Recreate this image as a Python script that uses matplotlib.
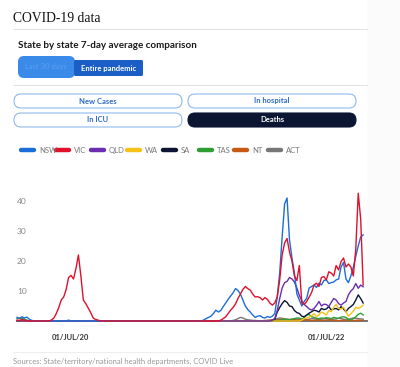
import matplotlib.pyplot as plt
from matplotlib.patches import FancyBboxPatch, Rectangle
import pandas as pd

# weekly 7-day average deaths
dates = pd.date_range('2020-02-01', periods=142, freq='7D')

nsw_early = [1.2, 0.8, 1.4, 1.0, 1.3, 0.6, 0.2, 0, 0, 0, 0, 0, 0, 0,
             0, 0, 0, 0, 0, 0, 0, 0.3]
nsw_late = [0.3, 0.8, 1.2, 1.6, 2.5, 3.6, 3.0, 3.5, 4.8, 6.0, 7.2, 8.3, 9.4, 10.8,
            10.2, 9.0, 7.0, 5.0, 3.8, 3.0, 2.0, 1.2, 1.6, 1.8, 1.2, 1.0, 1.5, 1.2,
            1.6, 2.5, 8.0, 16, 28, 39, 41, 27, 21, 16, 9, 7, 5, 6.5, 7.6, 11, 11.5,
            12, 11.2, 12.6, 12, 13.5, 13.7, 12.5, 12.8, 13, 13.7, 14, 18, 19.5, 14,
            12.8, 15, 18, 21.5, 25, 28, 28.7]

vic_early = [0.3, 0.2, 0.5, 0.3, 0.1, 0, 0, 0, 0, 0, 0, 0, 0, 0, 0.3, 1.0, 2.5,
             4.5, 7.0, 8.0, 10.5, 14.5, 15.2, 14.0, 17.5, 22, 15, 7, 5.8, 4.3,
             2.8, 1.0, 0.5, 0.3]
vic_late = [0.3, 0.8, 1.4, 2.5, 3.6, 4.5, 5.7, 7.5, 9.0, 10.5, 11.5, 10.8, 10.3,
            9.0, 8.0, 8.1, 7.8, 7.0, 7.8, 7.2, 6.0, 5.3, 6.0, 8.0, 13.7, 22, 26,
            27.5, 23, 20, 15, 13.5, 18.5, 6, 5.5, 6.5, 8, 9.5, 12, 12.6, 11.5,
            14.5, 14.8, 13.7, 16.4, 16, 15, 18.5, 17, 19.8, 21, 18, 19, 18, 15,
            24, 42.6, 34, 12]

qld_late = [0.3, 0.8, 3.5, 7.5, 11, 12.8, 13.2, 14.5, 14.0, 13, 11, 8.5, 6.8,
            5.5, 4.8, 4.0, 3.7, 4.2, 5.2, 6.5, 5.0, 5.6, 5.5, 4.8, 6.2, 7.5, 7.0,
            5.8, 5.3, 6.0, 6.5, 8.7, 10, 10.8, 12.5, 10.9, 12, 11.4]

wa_late = [0.3, 0.8, 1.0, 1.3, 1.8, 2.4, 1.5, 2.0, 3.0, 2.6, 2.0, 3.5, 3.1, 4.5,
           5.6, 4.2, 4.0, 4.6, 3.2, 1.6, 2.4, 3.3, 4.6, 4.2, 4.6, 5.3]

sa_late = [0.5, 3.0, 4.5, 5.8, 6.8, 6.2, 5.0, 4.8, 3.5, 2.8, 2.5, 1.6, 1.4, 2.0,
           2.6, 3.1, 3.6, 3.4, 3.0, 4.2, 3.8, 4.0, 4.8, 3.7, 4.0, 4.2, 3.7, 4.8,
           4.0, 3.1, 4.2, 4.8, 5.5, 7.0, 8.7, 7.5, 6.0]

tas_early = [0.8, 1.0, 0.9, 0.6, 0.3]
tas_late = [0.2, 0.3, 0.4, 0.5, 0.6, 0.4, 0.6, 0.8, 1.0, 1.0, 0.6, 1.2, 2.0, 2.2,
            1.4, 1.2, 0.9, 0.8, 1.0, 0.9, 1.1, 1.0, 0.8, 1.2, 1.0, 0.9, 1.3, 1.4,
            1.2, 0.6, 0.3, 0.8, 1.4, 2.2, 2.6, 2.0]

nt_late = [0.1, 0.1, 0.2, 0.2, 0.3, 0.3, 0.4, 0.5, 0.6, 0.5, 0.4, 0.5, 0.6, 0.4,
           0.3, 0.3, 0.2, 0.3, 0.4, 0.3, 0.2, 0.2, 0.3, 0.3, 0.2, 0.2, 0.3, 0.4,
           0.3, 0.2, 0.2, 0.1, 0.2, 0.3, 0.2, 0.2, 0.1, 0.2, 0.2, 0.3, 0.2, 0.2]

act_late = [0.2, 0.4, 0.8, 1.2, 1.0, 0.6, 0.4, 0.3, 0.2, 0.2, 0.1, 0.1, 0.1, 0.2,
            0.2, 0.3, 0.4, 0.6, 0.8, 1.0, 0.9, 0.7, 0.6, 0.5, 0.4, 0.5, 0.6, 0.5,
            0.7, 0.6, 0.5, 0.6, 0.8, 0.7, 0.6, 0.5, 0.6, 0.7, 0.8, 0.6, 0.5, 0.6,
            0.7, 0.9, 0.8, 0.6, 0.5, 0.6, 0.8, 1.0, 0.9, 0.8, 0.7, 0.6]


def full(early, late):
    # zero in between the early and late readings
    return early + [0] * (len(dates) - len(early) - len(late)) + late


states = ['NSW', 'VIC', 'QLD', 'WA', 'SA', 'TAS', 'NT', 'ACT']
colors = ['#1a6ddb', '#e0102b', '#6a2eae', '#f7c11a', '#0c1633', '#2e9e33', '#c65a14', '#777777']
series = {
    'NSW': full(nsw_early, nsw_late),
    'VIC': full(vic_early, vic_late),
    'QLD': full([], qld_late),
    'WA': full([], wa_late),
    'SA': full([], sa_late),
    'TAS': full(tas_early, tas_late),
    'NT': full([], nt_late),
    'ACT': full([], act_late),
}

sans = 'Lato'
fig = plt.figure(figsize=(4, 3.67), dpi=100)

# page layer in pixel coordinates
bg = fig.add_axes([0, 0, 1, 1])
bg.set_xlim(0, 400)
bg.set_ylim(367, 0)
bg.axis('off')
bg.add_patch(Rectangle((367, 0), 33, 367, fc='#fbfbfb', ec='none'))

bg.text(13, 18, 'COVID-19 data', family='Liberation Serif', size=9.8, va='center', color='#111')
bg.plot([13, 367], [29, 29], color='#e4e4e4', lw=0.8)
bg.text(18, 45, 'State by state 7-day average comparison', family=sans, weight='bold',
        size=7.1, va='center', color='#1a1a1a')

bg.add_patch(FancyBboxPatch((18, 56), 57, 22, boxstyle='round,pad=0,rounding_size=6',
                            fc='#3a8aea', ec='none'))
bg.text(46, 67, 'Last 30 days', family=sans, size=5.5, ha='center', va='center', color='#5c9ff0')
bg.add_patch(FancyBboxPatch((74, 60), 69, 16, boxstyle='round,pad=0,rounding_size=1.5',
                            fc='#1b5fc6', ec='none'))
bg.text(108.5, 68, 'Entire pandemic', family=sans, weight='bold', size=5.5,
        ha='center', va='center', color='white')
bg.plot([13, 367], [85, 85], color='#e4e4e4', lw=0.8)

buttons = [('New Cases', 14, 94, False), ('In hospital', 188, 94, False),
           ('In ICU', 14, 113, False), ('Deaths', 188, 113, True)]
for label, x0, y0, active in buttons:
    bg.add_patch(FancyBboxPatch((x0, y0), 168, 14, boxstyle='round,pad=0,rounding_size=7',
                                fc='#0c1633' if active else 'white',
                                ec='#0c1633' if active else '#8fb9ea', lw=0.8))
    bg.text(x0 + 84, y0 + 7, label, family=sans, weight='bold', size=5.5, ha='center',
            va='center', color='white' if active else '#2d6bc5')

# legend
leg_x = [19, 54, 89, 125, 161, 197, 232, 266]
for st, c, x0 in zip(states, colors, leg_x):
    bg.plot([x0 + 2, x0 + 15], [150, 150], color=c, lw=3.2, solid_capstyle='round')
    bg.text(x0 + 20, 150.5, st, family=sans, size=5.5, va='center', color='#777')

bg.plot([13, 367], [352, 352], color='#eeeeee', lw=0.8)
bg.text(13, 361, 'Sources: State/territory/national health departments, COVID Live',
        family=sans, size=5.5, va='center', color='#999')

# chart
ax = fig.add_axes([17 / 400, 1 - 321 / 367, 350 / 400, 135 / 367])
ax.patch.set_alpha(0)
ax.axhline(0, color='#666', lw=1.3, zorder=1, clip_on=False)
for st, c in reversed(list(zip(states, colors))):
    if st in ('NSW', 'VIC'):
        continue
    ax.plot(dates, series[st], color=c, lw=1.0, clip_on=False, zorder=2)
ax.plot(dates, series['NSW'], color=colors[0], lw=1.0, clip_on=False, zorder=3)
ax.plot(dates, series['VIC'], color=colors[1], lw=1.0, clip_on=False, zorder=3)

ax.set_xlim(pd.Timestamp('2020-01-31 20:00'), pd.Timestamp('2022-10-26'))
ax.set_ylim(0, 45)
for s in ax.spines.values():
    s.set_visible(False)

ax.set_yticks([10, 20, 30, 40])
ax.tick_params(axis='y', length=0, pad=0, labelsize=6, labelcolor='#888')
for lab in ax.get_yticklabels():
    lab.set_horizontalalignment('left')
    lab.set_family(sans)

ax.set_xticks([pd.Timestamp('2020-07-01'), pd.Timestamp('2022-07-01')])
ax.set_xticklabels(['01/JUL/20', '01/JUL/22'])
ax.tick_params(axis='x', length=0, pad=9, labelsize=5.5, labelcolor='#333')
for lab in ax.get_xticklabels():
    lab.set_family(sans)
    lab.set_weight('bold')

fig.savefig('out.png', dpi=100)
